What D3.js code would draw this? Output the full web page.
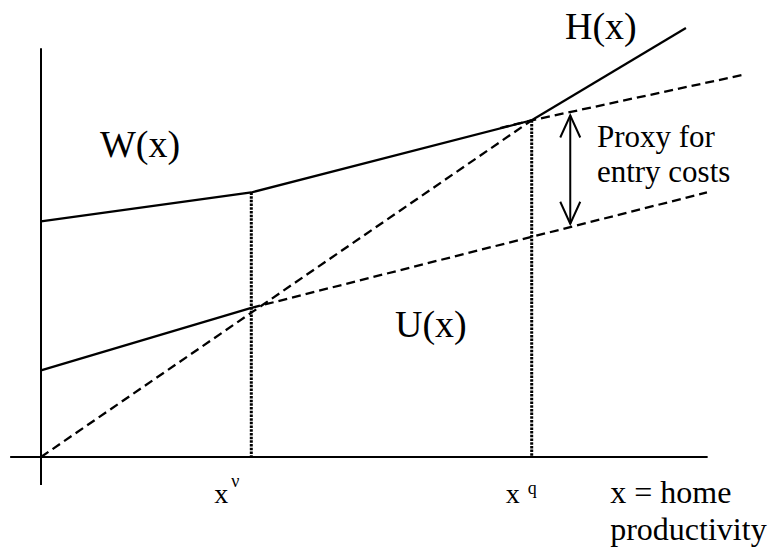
<!DOCTYPE html>
<html>
<head>
<meta charset="utf-8">
<script src="https://cdn.jsdelivr.net/npm/d3@7"></script>
<style>
  html, body { margin: 0; padding: 0; background: #fff; }
  svg text { font-family: "Liberation Serif", "Times New Roman", serif; fill: #000; }
</style>
</head>
<body>
<svg id="chart" width="772" height="553"></svg>
<script>
// ---- data (model units) ----
const wageSolid   = [[0, 4.9], [3, 5.5], [7, 7.0]];          // W(x)
const wageDashed  = [[6.55, 6.84], [7, 7.0], [10, 7.94]];    // W(x) extension
const homeSolid   = [[7, 7.0], [9.2, 8.92]];                 // H(x)
const diagDashed  = [[0, 0], [7, 7.0]];                      // 45-degree line
const unempSolid  = [[0, 1.8], [3, 3.1]];                    // U(x)
const unempDashed = [[3, 3.1], [9.5, 5.5]];                  // U(x) extension
const cutoffs     = [{ sup: "ν", x: 3, top: 5.5 }, { sup: "q", x: 7, top: 7.0 }];
const entryArrow  = { x: 7.55, y1: 7.1, y2: 4.85 };
const axisX       = [-0.44, 9.51];
const axisY       = [-0.58, 8.5];
const curveLabels = [
  { text: "W(x)", x: 0.84, y: 6.24 },
  { text: "H(x)", x: 7.475, y: 8.69 },
  { text: "U(x)", x: 5.05, y: 2.49 }
];
const proxyLines  = ["Proxy for", "entry costs"];
const xTitleLines = ["x = home", "productivity"];

// ---- scales ----
const x = d3.scaleLinear().domain([0, 10]).range([41, 742]);
const y = d3.scaleLinear().domain([0, 9]).range([457, 24.1]);

const svg = d3.select("#chart");
const line = d3.line().x(d => x(d[0])).y(d => y(d[1]));

// axes
svg.append("line").attr("x1", x(0)).attr("x2", x(0)).attr("y1", y(axisY[0])).attr("y2", y(axisY[1]))
  .attr("stroke", "#000").attr("stroke-width", 2);
svg.append("line").attr("x1", x(axisX[0])).attr("x2", x(axisX[1])).attr("y1", y(0)).attr("y2", y(0))
  .attr("stroke", "#000").attr("stroke-width", 2);

// vertical dotted cutoffs
svg.selectAll(".cut").data(cutoffs).enter().append("line")
  .attr("x1", d => x(d.x)).attr("x2", d => x(d.x))
  .attr("y1", d => y(d.top)).attr("y2", y(0))
  .attr("stroke", "#000").attr("stroke-width", 3).attr("stroke-dasharray", "2.5,1.2");

// dashed lines
[wageDashed, diagDashed, unempDashed].forEach(pts => {
  svg.append("path").attr("d", line(pts)).attr("fill", "none")
    .attr("stroke", "#000").attr("stroke-width", 2.3).attr("stroke-dasharray", "9,5");
});
// solid lines
[wageSolid, homeSolid, unempSolid].forEach(pts => {
  svg.append("path").attr("d", line(pts)).attr("fill", "none")
    .attr("stroke", "#000").attr("stroke-width", 2.2);
});

// double-headed arrow
const ax = x(entryArrow.x), ay1 = y(entryArrow.y1), ay2 = y(entryArrow.y2);
svg.append("line").attr("x1", ax).attr("x2", ax).attr("y1", ay1).attr("y2", ay2)
  .attr("stroke", "#000").attr("stroke-width", 2);
svg.append("path").attr("d", `M${ax-10},${ay1+22}L${ax},${ay1}L${ax+10},${ay1+22}`)
  .attr("fill", "none").attr("stroke", "#000").attr("stroke-width", 2);
svg.append("path").attr("d", `M${ax-10},${ay2-22}L${ax},${ay2}L${ax+10},${ay2-22}`)
  .attr("fill", "none").attr("stroke", "#000").attr("stroke-width", 2);

// curve labels
svg.selectAll(".clab").data(curveLabels).enter().append("text")
  .attr("x", d => x(d.x)).attr("y", d => y(d.y))
  .attr("font-size", 38).text(d => d.text);

// proxy text
svg.selectAll(".proxy").data(proxyLines).enter().append("text")
  .attr("x", x(7.93)).attr("y", (d, i) => y(6.44) + i * 35)
  .attr("font-size", 31).text(d => d);

// x-axis title
svg.selectAll(".xt").data(xTitleLines).enter().append("text")
  .attr("x", x(8.12)).attr("y", (d, i) => y(-0.956) + i * 37)
  .attr("font-size", 32).text(d => d);

// cutoff tick labels
const tl = svg.selectAll(".tl").data(cutoffs).enter().append("g");
tl.append("text").attr("x", d => x(d.x) + (d.sup === "ν" ? -37 : -26)).attr("y", y(-0.956))
  .attr("font-size", 28).text("x");
tl.append("text").attr("x", d => x(d.x) + (d.sup === "ν" ? -20 : -4))
  .attr("y", d => d.sup === "ν" ? 487 : 494)
  .attr("font-size", 18).text(d => d.sup);
</script>
</body>
</html>
